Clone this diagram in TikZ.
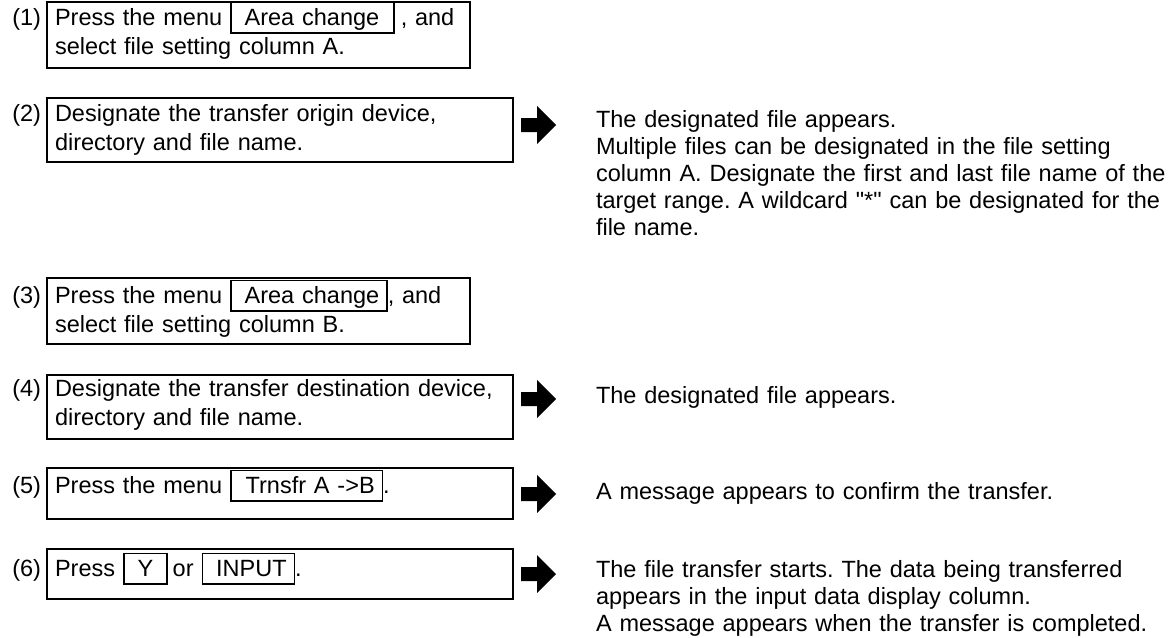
\documentclass[tikz,border=0pt]{standalone}
\usepackage{fontspec}
\setmainfont{Liberation Sans}[Ligatures=TeXOff]
\frenchspacing
\newcommand\kb[1]{{\setlength{\fboxsep}{0pt}\setlength{\fboxrule}{1.5pt}\fbox{\rule[-7pt]{0pt}{29pt}#1}}}
\begin{document}
\begin{tikzpicture}[x=1pt,y=-1pt,
  every node/.style={inner sep=0pt,outer sep=0pt},
  stepbox/.style={draw,line width=1.5pt,anchor=north west},
  boxtext/.style={font=\fontsize{23.5}{29.5}\selectfont,anchor=base west,text width=460pt,align=left},
  numlabel/.style={font=\fontsize{23.5}{29}\selectfont,anchor=base east},
  restext/.style={font=\fontsize{23.5}{27}\selectfont,anchor=base west,text width=575pt,align=left},
  blockarrow/.style={fill=black}]
\useasboundingbox (0,0) rectangle (1172,637);
% boxes
\node[stepbox,minimum width=423pt,minimum height=66pt] (b1) at (47,2) {};
\node[stepbox,minimum width=466pt,minimum height=64pt] (b2) at (47,98) {};
\node[stepbox,minimum width=423pt,minimum height=66pt] (b3) at (47,278) {};
\node[stepbox,minimum width=466pt,minimum height=64pt] (b4) at (47,375) {};
\node[stepbox,minimum width=466pt,minimum height=51pt] (b5) at (47,468) {};
\node[stepbox,minimum width=466pt,minimum height=50pt] (b6) at (47,549) {};
% box texts
\node[boxtext] (t1) at (55,25) {Press the menu\hspace{8pt}\kb{\hspace{13pt}Area change\hspace{14pt}}\hspace{6pt}, and\\select file setting column A.};
\node[boxtext] (t2) at (55,121) {Designate the transfer origin device,\\directory and file name.};
\node[boxtext] (t3) at (55,303) {Press the menu\hspace{8pt}\kb{\hspace{13pt}Area change\hspace{7pt}}, and\\select file setting column B.};
\node[boxtext] (t4) at (55,396) {Designate the transfer destination device,\\directory and file name.};
\node[boxtext] (t5) at (55,493) {Press the menu\hspace{8pt}\kb{\hspace{14pt}Trnsfr A ->B\hspace{7pt}}.};
\node[boxtext] (t6) at (55,576) {Press\hspace{8pt}\kb{\hspace{13pt}Y\hspace{13pt}}\hspace{5pt}or\hspace{8pt}\kb{\hspace{13pt}INPUT\hspace{7pt}}.};
% numbers
\foreach \i in {1,...,6}{
  \node[numlabel] (n\i) at ([xshift=-14pt]t\i.base west) {(\i)};
}
% arrows
\foreach \nm/\yy in {a2/125, a4/399, a5/494, a6/574}{
  \fill[blockarrow] (521,\yy-7) -- (537,\yy-7) -- (537,\yy-19) -- (556,\yy) -- (537,\yy+19) -- (537,\yy+7) -- (521,\yy+7) -- cycle;
}
% result texts
\node[restext] (r2) at (596,127) {The designated file appears.\\Multiple files can be designated in the file setting\\column A. Designate the first and last file name of the\\target range. A wildcard "*" can be designated for the\\file name.};
\node[restext] (r4) at (596,403) {The designated file appears.};
\node[restext] (r5) at (596,499) {A message appears to confirm the transfer.};
\node[restext] (r6) at (596,577) {The file transfer starts. The data being transferred\\appears in the input data display column.\\A message appears when the transfer is completed.};
\end{tikzpicture}
\end{document}
